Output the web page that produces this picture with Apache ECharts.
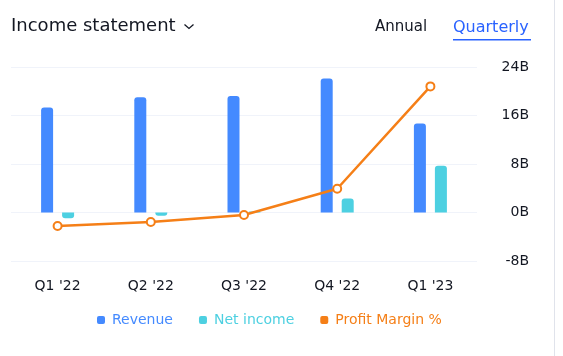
<!DOCTYPE html>
<html>
<head>
<meta charset="utf-8">
<script src="https://cdn.jsdelivr.net/npm/echarts@6/dist/echarts.min.js"></script>
<style>
html,body{margin:0;padding:0;background:#fff;}
#chart{width:563px;height:356px;}
</style>
</head>
<body>
<div id="chart"></div>
<script>
const categories = ["Q1 '22", "Q2 '22", "Q3 '22", "Q4 '22", "Q1 '23"];
const revenue = [17.3, 19.0, 19.2, 22.1, 14.7];
const netIncome = [-0.95, -0.55, 0.15, 2.3, 7.7];
const profitMargin = [-5.6, -3.9, -1.0, 9.8, 52.0];
const yTicks = [-8, 0, 8, 16, 24];

const FONT = '"DejaVu Sans", sans-serif';
const TXT = '#131722';
const C_REV = '#448AFF';
const C_NET = '#4DD0E1';
const C_PM = '#F57F17';

const chart = echarts.init(document.getElementById('chart'), null, {renderer: 'canvas'});
const option = {
  animation: false,
  textStyle: {fontFamily: FONT},
  grid: {left: 11, right: 86, top: 67, bottom: 95, containLabel: false},
  xAxis: {
    type: 'category',
    data: categories,
    axisLine: {show: false},
    axisTick: {show: false},
    axisLabel: {color: TXT, fontSize: 14, fontFamily: FONT, margin: 18},
    splitLine: {show: false}
  },
  yAxis: [{
    type: 'value',
    position: 'right',
    min: yTicks[0],
    max: yTicks[yTicks.length - 1],
    interval: 8,
    axisLine: {show: false},
    axisTick: {show: false},
    axisLabel: {color: TXT, fontSize: 14, fontFamily: FONT, align: 'right', margin: 52,
      formatter: v => v + 'B'},
    splitLine: {lineStyle: {color: '#F0F3FA', width: 1}}
  }, {
    type: 'value',
    show: false,
    min: -20,
    max: 60,
    splitLine: {show: false}
  }],
  legend: {
    left: 92,
    top: 308,
    itemWidth: 8,
    itemHeight: 8,
    itemGap: 26,
    icon: 'roundRect',
    textStyle: {fontSize: 14, fontFamily: FONT, padding: [0, 0, 0, 2]},
    data: [
      {name: 'Revenue', textStyle: {color: C_REV}},
      {name: 'Net income', textStyle: {color: C_NET}},
      {name: 'Profit Margin %', textStyle: {color: C_PM}}
    ]
  },
  series: [{
    name: 'Revenue',
    type: 'bar',
    barWidth: 12,
    barGap: '75%',
    itemStyle: {color: C_REV},
    data: revenue.map(v => ({value: v, itemStyle: {borderRadius: v >= 0 ? [3, 3, 0, 0] : [0, 0, 3, 3]}}))
  }, {
    name: 'Net income',
    type: 'bar',
    barWidth: 12,
    itemStyle: {color: C_NET},
    data: netIncome.map(v => ({value: v, itemStyle: {borderRadius: v >= 0 ? [3, 3, 0, 0] : [0, 0, 3, 3]}}))
  }, {
    name: 'Profit Margin %',
    type: 'line',
    yAxisIndex: 1,
    data: profitMargin,
    symbol: 'emptyCircle',
    symbolSize: 8,
    lineStyle: {color: C_PM, width: 2.5},
    itemStyle: {color: C_PM, borderWidth: 2},
    z: 5
  }],
  graphic: [
    {type: 'text', left: 11, top: 17, style: {text: 'Income statement', font: '18px ' + FONT, fill: TXT}},
    {type: 'polyline', shape: {points: [[184.5, 24.5], [189, 28.5], [193.5, 24.5]]}, style: {stroke: TXT, lineWidth: 1.3, fill: null}},
    {type: 'text', left: 375, top: 20, style: {text: 'Annual', font: '15px ' + FONT, fill: TXT}},
    {type: 'text', left: 453, top: 20, style: {text: 'Quarterly', font: '16px ' + FONT, fill: '#2962FF'}},
    {type: 'rect', shape: {x: 453, y: 39, width: 78, height: 1.5}, style: {fill: '#2962FF'}},
    {type: 'rect', shape: {x: 554, y: 0, width: 1, height: 356}, style: {fill: '#E0E3EB'}}
  ]
};
chart.setOption(option);
</script>
</body>
</html>
